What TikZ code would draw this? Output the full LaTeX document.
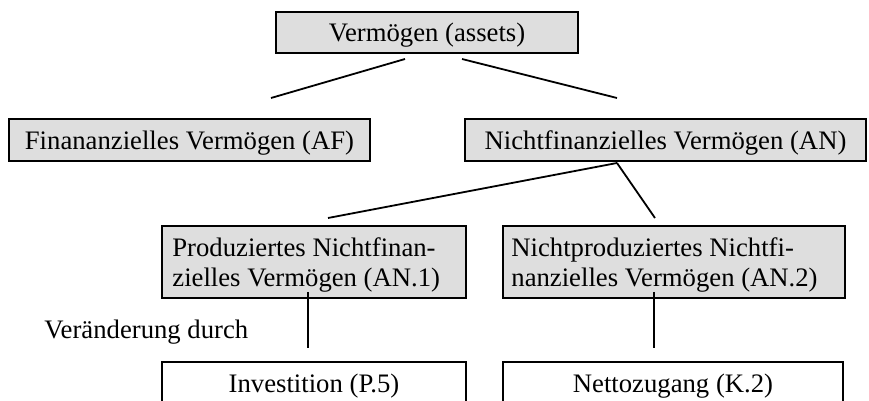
\documentclass[tikz,border=0pt]{standalone}
\usepackage{fontspec}
\setmainfont{Liberation Serif}
\definecolor{boxgray}{RGB}{222,222,222}
\begin{document}
\begin{tikzpicture}[x=0.5pt,y=-0.5pt,
  boxg/.style={draw=black, line width=1.1pt, fill=boxgray, inner sep=0pt, outer sep=0pt, anchor=north west},
  boxw/.style={boxg, fill=white},
  lbl/.style={inner sep=0pt, font=\fontsize{13.35pt}{15pt}\selectfont},
  conn/.style={line width=0.9pt}]
\useasboundingbox (0,0) rectangle (869,401);
\fill[white] (0,0) rectangle (869,401);
% boxes
\node[boxg, minimum width=151pt, minimum height=20.5pt] (top) at (276,12) {};
\node[boxg, minimum width=180.5pt, minimum height=21pt] (af) at (9,119) {};
\node[boxg, minimum width=200.5pt, minimum height=21pt] (an) at (465,119) {};
\node[boxg, minimum width=152pt, minimum height=36pt] (an1) at (162,226) {};
\node[boxg, minimum width=171pt, minimum height=36pt] (an2) at (503,226) {};
\node[boxw, minimum width=152pt, minimum height=20.5pt] (inv) at (162,362) {};
\node[boxw, minimum width=170pt, minimum height=20.5pt] (net) at (503,362) {};
% texts
\node[lbl, anchor=base] (ttop) at (427,42) {Vermögen (assets)};
\node[lbl, anchor=base] (taf) at (189.5,150) {Finananzielles Vermögen (AF)};
\node[lbl, anchor=base] (tan) at (665.5,150) {Nichtfinanzielles Vermögen (AN)};
\node[lbl, anchor=base west, align=left] (tan1) at (172,286) {Produziertes Nichtfinan-\\zielles Vermögen (AN.1)};
\node[lbl, anchor=base west, align=left] (tan2) at (511,286) {Nichtproduziertes Nichtfi-\\nanzielles Vermögen (AN.2)};
\node[lbl, anchor=base west] (tver) at (44,338) {Veränderung durch};
\node[lbl, anchor=base] (tinv) at (314,393) {Investition (P.5)};
\node[lbl, anchor=base] (tnet) at (673,393) {Nettozugang (K.2)};
% connector end points
\coordinate (t1) at (405,59);
\coordinate (t2) at (271,98);
\coordinate (t3) at (462,59);
\coordinate (t4) at (617,98);
\coordinate (a0) at (617,163);
\coordinate (a1) at (328,218);
\coordinate (a2) at (655,218);
\coordinate (v1a) at (308,292);
\coordinate (v1b) at (308,348);
\coordinate (v2a) at (654,292);
\coordinate (v2b) at (654,348);
% connectors
\draw[conn] (t1) -- (t2);
\draw[conn] (t3) -- (t4);
\draw[conn] (a0) -- (a1);
\draw[conn] (a0) -- (a2);
\draw[conn] (v1a) -- (v1b);
\draw[conn] (v2a) -- (v2b);
\end{tikzpicture}
\end{document}
